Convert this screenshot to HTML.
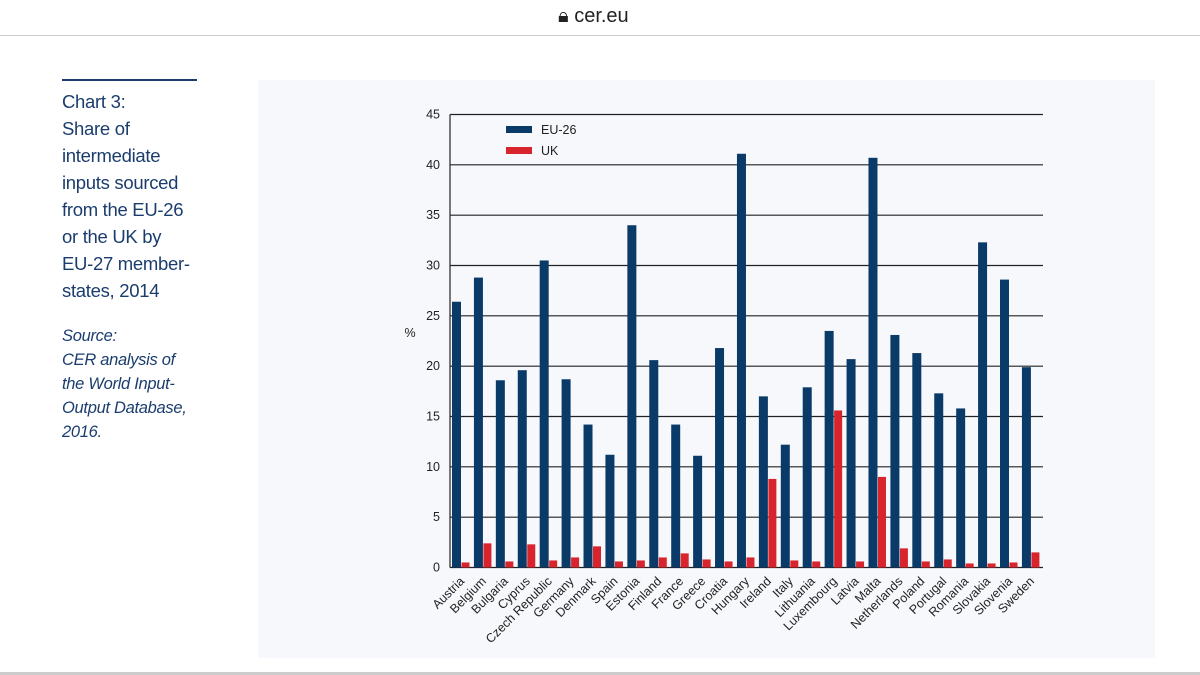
<!DOCTYPE html>
<html><head><meta charset="utf-8"><style>
body{margin:0;width:1200px;height:675px;background:#fff;overflow:hidden;font-family:"Liberation Sans",sans-serif;position:relative}
.side{position:absolute;left:62px;top:88px;color:#1b3d6e;font-size:18.5px;line-height:27px;letter-spacing:-0.3px}
.src{font-style:italic;font-size:16.5px;line-height:24px;margin-top:20px}
</style></head><body>
<div style="position:absolute;left:0;top:0;width:1200px;height:35px;border-bottom:1px solid #ccc;background:#fff">
<div style="position:absolute;left:558px;top:5px;font-size:20px;color:#222">&#128274;&#xFE0E; cer.eu</div></div>
<div style="position:absolute;left:62px;top:79px;width:135px;height:2px;background:#1b3d6e"></div>
<div class="side">Chart 3:<br>Share of<br>intermediate<br>inputs sourced<br>from the EU-26<br>or the UK by<br>EU-27 member-<br>states, 2014
<div class="src">Source:<br>CER analysis of<br>the World Input-<br>Output Database,<br>2016.</div></div>
<div style="position:absolute;left:258px;top:80px;width:897px;height:578px;background:#f7f8fb"></div>
<div style="position:absolute;left:0;top:672px;width:1200px;height:3px;background:#ccc"></div>
<svg id="c" width="1200" height="675" style="position:absolute;left:0;top:0"></svg>
<script>
const countries=["Austria","Belgium","Bulgaria","Cyprus","Czech Republic","Germany","Denmark","Spain","Estonia","Finland","France","Greece","Croatia","Hungary","Ireland","Italy","Lithuania","Luxembourg","Latvia","Malta","Netherlands","Poland","Portugal","Romania","Slovakia","Slovenia","Sweden"];
const eu26=[26.4,28.8,18.6,19.6,30.5,18.7,14.2,11.2,34.0,20.6,14.2,11.1,21.8,41.1,17.0,12.2,17.9,23.5,20.7,40.7,23.1,21.3,17.3,15.8,32.3,28.6,19.9];
const uk=[0.5,2.4,0.6,2.3,0.7,1.0,2.1,0.6,0.7,1.0,1.4,0.8,0.6,1.0,8.8,0.7,0.6,15.6,0.6,9.0,1.9,0.6,0.8,0.4,0.4,0.5,1.5];
const yTicks=[0,5,10,15,20,25,30,35,40,45];
const svg=document.getElementById('c'),NS='http://www.w3.org/2000/svg';
const x0=450,x1=1043,y0=567.5,yTop=114.5;
const y=v=>y0-(v/45)*(y0-yTop);
const step=21.92;
const xc=i=>x0+2+i*step;
function mk(t,a){const e=document.createElementNS(NS,t);for(const k in a)e.setAttribute(k,a[k]);svg.appendChild(e);return e;}
yTicks.forEach(t=>{
 const l=mk('line',{x1:x0,x2:x1,y1:y(t),y2:y(t),stroke:'#222','stroke-width':1.2});
 
 
 const tx=mk('text',{x:440,y:y(t)+4,'text-anchor':'end','font-size':12.5,fill:'#222','font-family':'Liberation Sans'});
 tx.textContent=t;
 
 
});
const ax=mk('line',{x1:x0,x2:x0,y1:yTop,y2:y0,stroke:'#222','stroke-width':1.2});


const yl=mk('text',{x:410,y:337,'text-anchor':'middle','font-size':12.5,fill:'#222','font-family':'Liberation Sans'});
yl.textContent='%';


countries.forEach((c,i)=>{
 const b=mk('rect',{x:xc(i),y:y(eu26[i]),width:9,height:y0-y(eu26[i]),fill:'#0a3a68'});
 
 
 const r=mk('rect',{x:xc(i)+9.5,y:y(uk[i]),width:8,height:y0-y(uk[i]),fill:'#d8242c'});
 
 
 const cx=xc(i)+13,cy=582;
 const t=mk('text',{x:cx,y:cy,'text-anchor':'end','font-size':12.5,fill:'#222','font-family':'Liberation Sans',transform:`rotate(-45 ${cx} ${cy})`});
 t.textContent=c;
 
 
});
[['EU-26','#0a3a68',130],['UK','#d8242c',151]].forEach(([n,col,yy])=>{
 const s=mk('rect',{x:506,y:yy-4,width:26,height:7,fill:col});
 
 
 const t=mk('text',{x:541,y:yy+4,'font-size':12.5,fill:'#222','font-family':'Liberation Sans'});
 t.textContent=n;
 
 
});
</script>
</body></html>
